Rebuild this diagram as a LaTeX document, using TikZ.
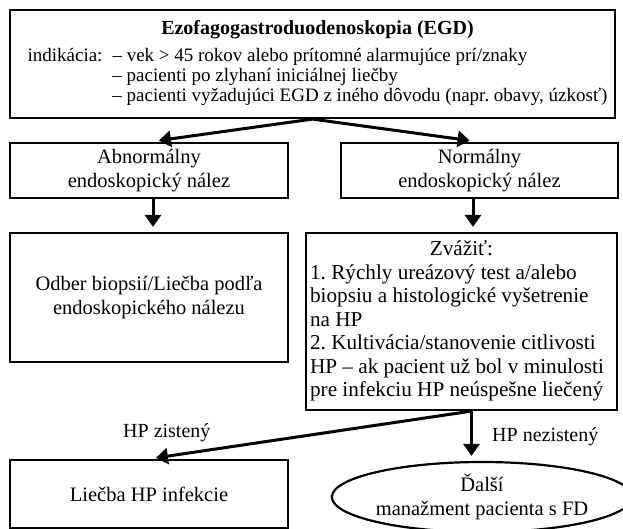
\documentclass[tikz,border=0pt]{standalone}
\usepackage{fontspec}
\setmainfont{Liberation Serif}
\usetikzlibrary{arrows.meta,shapes.geometric}
\frenchspacing

\begin{document}
\begin{tikzpicture}[x=1pt,y=-1pt,
    box/.style={draw,line width=2.2pt,inner sep=0pt,align=center},
    arr/.style={line width=3pt,-{Triangle[width=16pt,length=12pt]}},
    font=\fontsize{20.5}{24}\selectfont]
    \useasboundingbox (0,0) rectangle (623,529);
    \clip (0,0) rectangle (623,529);

    % EGD a indikacie
    \node[box,minimum width=605pt,minimum height=108pt] (egd) at (312.5,64)
      {\hspace*{10pt}\fontsize{19}{20}\selectfont
       \begin{tabular}{@{}l@{\hspace{10pt}}l@{}}
       \multicolumn{2}{c}{\fontsize{20}{20}\selectfont\textbf{Ezofagogastroduodenoskopia (EGD)}}\\[7pt]
       indikácia: & – vek > 45 rokov alebo prítomné alarmujúce prí/znaky\\
                  & – pacienti po zlyhaní iniciálnej liečby\\
                  & – pacienti vyžadujúci EGD z iného dôvodu (napr. obavy, úzkosť)
       \end{tabular}};

    % nalez
    \node[box,minimum width=278pt,minimum height=55pt] (abn) at (149,170.5)
      {Abnormálny\\ endoskopický nález};
    \node[box,minimum width=277pt,minimum height=55pt] (norm) at (479.5,170.5)
      {Normálny\\ endoskopický nález};

    % dalsi postup
    \node[box,minimum width=278pt,minimum height=129pt] (odber) at (149,297.5)
      {Odber biopsií/Liečba podľa\\ endoskopického nálezu};
    \node[box,minimum width=311pt,minimum height=177pt] (zvaz) at (461.5,321.5)
      {\hspace*{-9pt}\fontsize{21.2}{23.5}\selectfont
       \begin{tabular}{@{}l@{}}
       \multicolumn{1}{@{}c@{}}{\hspace*{9pt}Zvážiť:}\\
       1. Rýchly ureázový test a/alebo\\
       biopsiu a histologické vyšetrenie\\
       na HP\\
       2. Kultivácia/stanovenie citlivosti\\
       HP – ak pacient už bol v minulosti\\
       pre infekciu HP neúspešne liečený
       \end{tabular}};

    % vysledok HP
    \node[box,minimum width=278pt,minimum height=68pt] (liecba) at (149,494)
      {Liečba HP infekcie};
    \node[box,ellipse,minimum width=278pt,minimum height=70pt] (dalsi) at (482,497)
      {Ďalší\\ manažment pacienta s FD};
    \node[anchor=west,inner sep=0pt,font=\fontsize{20}{24}\selectfont] (zist) at (123,433) {HP zistený};
    \node[anchor=west,inner sep=0pt,font=\fontsize{20}{24}\selectfont] (nezist) at (492,437) {HP nezistený};

    % sipky
    \coordinate (abndown) at ([xshift=4pt]abn.south);
    \coordinate (normdown) at ([xshift=-6.5pt]norm.south);
    \coordinate (hpsplit) at ([xshift=10pt]zvaz.south);
    \draw[arr,shorten >=10pt] (egd.south) -- (abn.north);
    \draw[arr,shorten >=10pt] (egd.south) -- (norm.north);
    \draw[arr,shorten >=5pt] (abndown) -- (abndown |- odber.north);
    \draw[arr,shorten >=5pt] (normdown) -- (normdown |- zvaz.north);
    \draw[arr,shorten >=7pt] (hpsplit) -- (liecba.north);
    \draw[arr,shorten >=5pt] (hpsplit) -- (hpsplit |- dalsi.north);
\end{tikzpicture}
\end{document}
